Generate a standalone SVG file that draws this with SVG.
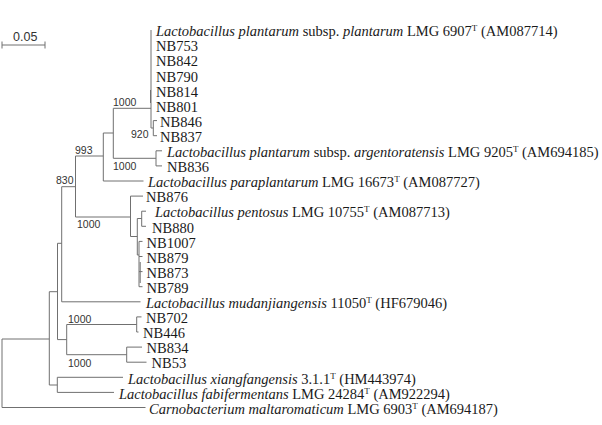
<svg xmlns="http://www.w3.org/2000/svg" width="602" height="425" viewBox="0 0 602 425">
<style>
.e{fill:none;stroke:#707070;stroke-width:1}
.t{font-family:"Liberation Serif","Times New Roman",serif;font-size:14.5px;fill:#1a1a1a}
.i{font-style:italic}
.s{font-size:9px}
.b{font-family:"Liberation Sans",Arial,sans-serif;font-size:10.5px;fill:#333}
.sc{font-family:"Liberation Sans",Arial,sans-serif;font-size:12.5px;fill:#333}
</style>
<rect width="602" height="425" fill="#fff"/>
<g id="scale">
<path class="e" d="M2,45 H45 M2,41.5 V48.5 M45,41.5 V48.5"/>
<text class="sc" x="13" y="40.5">0.05</text>
</g>
<g id="connectors">
<path class="e" d="M2,339 V407.5 H145.5 M2,339 H49.3
M49.3,291.7 V385 H57.3 M49.3,291.7 H57.5
M57.3,377.3 V392.4 M57.3,377.3 H123 M57.3,392.4 H114
M57.5,243.3 V339.6 M57.5,243.3 H61.7 M57.5,339.6 H66.7
M66.7,324.5 V354.7 M66.7,324.5 H136.7 M66.7,354.7 H126.7
M136.7,316.9 V332 M136.7,316.9 H141.5 M136.7,332 H138.5
M126.7,347.1 V362.2 M126.7,347.1 H142 M126.7,362.2 H146.5
M61.7,186.7 V301.8 H140.5 M61.7,186.7 H75.5
M75.5,156 V217 M75.5,156 H103.3 M75.5,217 H130.5
M130.5,196.1 V236.5 M130.5,196.1 H143 M130.5,236.5 H137.3
M137.3,218.5 V255 M137.3,218.5 H141.7 M137.3,255 H139
M141.7,211.2 V226.3 M141.7,211.2 H146 M141.7,226.3 H146
M139,241.4 V286.7 M139,241.4 H142.5 M139,256.5 H142.5 M139,271.6 H142.5 M139,286.7 H142.5
M103.3,133 V181 H143.5 M103.3,133 H113.3
M113.3,108.3 V158.3 M113.3,108.3 H151 M113.3,158.3 H156
M156,150.8 V165.9 M156,150.8 H162 M156,165.9 H162
M151,30 V128 H153.3
M153.3,120.6 V135.7 M153.3,120.6 H157 M153.3,135.7 H157"/>
<path class="e" stroke-width="1.6" d="M150.5,90 V103 M140.2,262 V283"/>
</g>
<g id="bootstrap">
<text class="b" x="113" y="106">1000</text>
<text class="b" x="148.5" y="138" text-anchor="end">920</text>
<text class="b" x="113" y="170">1000</text>
<text class="b" x="75" y="154">993</text>
<text class="b" x="73.5" y="184" text-anchor="end">830</text>
<text class="b" x="77" y="227.5">1000</text>
<text class="b" x="68" y="322.5">1000</text>
<text class="b" x="68" y="366.5">1000</text>
</g>
<g id="n1"><text class="t" x="156" y="36"><tspan class="i">Lactobacillus plantarum</tspan> subsp. <tspan class="i">plantarum</tspan> LMG 6907<tspan class="s" dy="-5">T</tspan><tspan dy="5"> (AM087714)</tspan></text></g>
<g id="n2"><text class="t" x="156" y="51">NB753</text></g>
<g id="n3"><text class="t" x="156" y="66">NB842</text></g>
<g id="n4"><text class="t" x="156" y="81.5">NB790</text></g>
<g id="n5"><text class="t" x="156" y="96.5">NB814</text></g>
<g id="n6"><text class="t" x="156" y="111.5">NB801</text></g>
<g id="n7"><text class="t" x="160" y="126.5">NB846</text></g>
<g id="n8"><text class="t" x="160" y="141.5">NB837</text></g>
<g id="n9"><text class="t" x="167" y="157"><tspan class="i">Lactobacillus plantarum</tspan> subsp. <tspan class="i">argentoratensis</tspan> LMG 9205<tspan class="s" dy="-5">T</tspan><tspan dy="5"> (AM694185)</tspan></text></g>
<g id="n10"><text class="t" x="167" y="172">NB836</text></g>
<g id="n11"><text class="t" x="148" y="187"><tspan class="i">Lactobacillus paraplantarum</tspan> LMG 16673<tspan class="s" dy="-5">T</tspan><tspan dy="5"> (AM087727)</tspan></text></g>
<g id="n12"><text class="t" x="146" y="202">NB876</text></g>
<g id="n13"><text class="t" x="155" y="217"><tspan class="i">Lactobacillus pentosus</tspan> LMG 10755<tspan class="s" dy="-5">T</tspan><tspan dy="5"> (AM087713)</tspan></text></g>
<g id="n14"><text class="t" x="152" y="232.5">NB880</text></g>
<g id="n15"><text class="t" x="146.5" y="247.5">NB1007</text></g>
<g id="n16"><text class="t" x="146.5" y="262.5">NB879</text></g>
<g id="n17"><text class="t" x="146.5" y="277.5">NB873</text></g>
<g id="n18"><text class="t" x="146.5" y="292.5">NB789</text></g>
<g id="n19"><text class="t" x="146" y="308"><tspan class="i">Lactobacillus mudanjiangensis</tspan> 11050<tspan class="s" dy="-5">T</tspan><tspan dy="5"> (HF679046)</tspan></text></g>
<g id="n20"><text class="t" x="146" y="323">NB702</text></g>
<g id="n21"><text class="t" x="143" y="338">NB446</text></g>
<g id="n22"><text class="t" x="146.5" y="353">NB834</text></g>
<g id="n23"><text class="t" x="151.5" y="368">NB53</text></g>
<g id="n24"><text class="t" x="128" y="383.5"><tspan class="i">Lactobacillus xiangfangensis</tspan> 3.1.1<tspan class="s" dy="-5">T</tspan><tspan dy="5"> (HM443974)</tspan></text></g>
<g id="n25"><text class="t" x="119" y="398.5"><tspan class="i">Lactobacillus fabifermentans</tspan> LMG 24284<tspan class="s" dy="-5">T</tspan><tspan dy="5"> (AM922294)</tspan></text></g>
<g id="n26"><text class="t" x="149" y="413.5"><tspan class="i">Carnobacterium maltaromaticum</tspan> LMG 6903<tspan class="s" dy="-5">T</tspan><tspan dy="5"> (AM694187)</tspan></text></g>
</svg>
